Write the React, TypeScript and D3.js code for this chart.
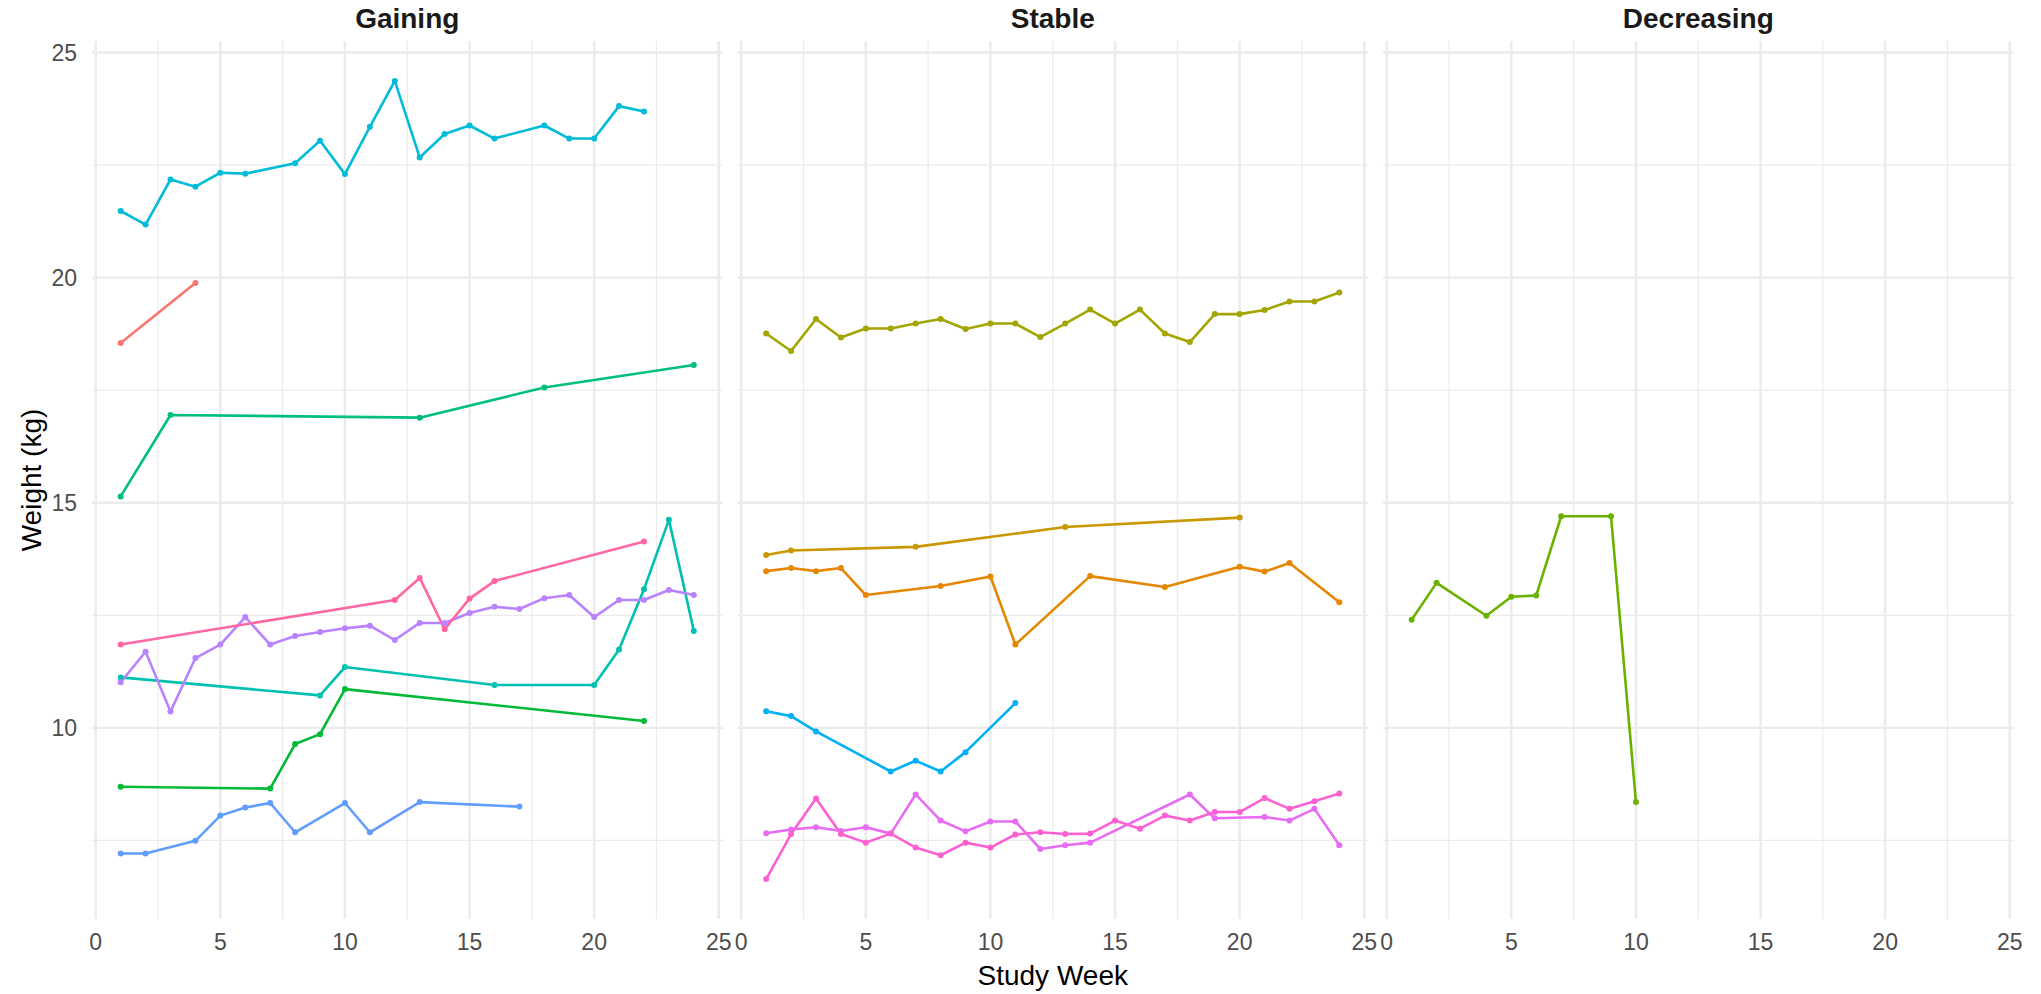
import React from "react";
import * as d3 from "d3";

// facets and series (one id per animal)
const facetNames = ["Gaining", "Stable", "Decreasing"];
const seriesIds = ["S01", "S02", "S03", "S04", "S05", "S06", "S07", "S08", "S09", "S10", "S11", "S12", "S13", "S14", "S15"];
const seriesFacet = ["Gaining", "Stable", "Stable", "Stable", "Decreasing", "Gaining", "Gaining", "Gaining", "Gaining", "Stable", "Gaining", "Gaining", "Stable", "Stable", "Gaining"];

const weeks01 = [1, 4];
const kg01 = [18.55, 19.88];
const weeks02 = [1, 2, 3, 4, 5, 8, 10, 11, 14, 17, 20, 21, 22, 24];
const kg02 = [13.48, 13.55, 13.48, 13.55, 12.95, 13.15, 13.36, 11.85, 13.37, 13.13, 13.58, 13.47, 13.66, 12.79];
const weeks03 = [1, 2, 7, 13, 20];
const kg03 = [13.84, 13.94, 14.02, 14.46, 14.67];
const weeks04 = [1, 2, 3, 4, 5, 6, 7, 8, 9, 10, 11, 12, 13, 14, 15, 16, 17, 18, 19, 20, 21, 22, 23, 24];
const kg04 = [18.76, 18.37, 19.08, 18.67, 18.87, 18.87, 18.98, 19.08, 18.86, 18.98, 18.98, 18.68, 18.98, 19.29, 18.98, 19.29, 18.76, 18.57, 19.19, 19.19, 19.28, 19.47, 19.47, 19.67];
const weeks05 = [1, 2, 4, 5, 6, 7, 9, 10];
const kg05 = [12.4, 13.22, 12.49, 12.91, 12.94, 14.7, 14.7, 8.35];
const weeks06 = [1, 7, 8, 9, 10, 22];
const kg06 = [8.69, 8.65, 9.64, 9.86, 10.86, 10.15];
const weeks07 = [1, 3, 13, 18, 24];
const kg07 = [15.14, 16.95, 16.89, 17.56, 18.06];
const weeks08 = [1, 9, 10, 16, 20, 21, 22, 23, 24];
const kg08 = [11.12, 10.72, 11.35, 10.95, 10.95, 11.74, 13.08, 14.62, 12.15];
const weeks09 = [1, 2, 3, 4, 5, 6, 8, 9, 10, 11, 12, 13, 14, 15, 16, 18, 19, 20, 21, 22];
const kg09 = [21.48, 21.18, 22.18, 22.02, 22.33, 22.31, 22.54, 23.04, 22.3, 23.35, 24.37, 22.67, 23.19, 23.38, 23.09, 23.38, 23.09, 23.09, 23.81, 23.69];
const weeks10 = [1, 2, 3, 6, 7, 8, 9, 11];
const kg10 = [10.37, 10.26, 9.92, 9.03, 9.27, 9.03, 9.46, 10.55];
const weeks11 = [1, 2, 4, 5, 6, 7, 8, 10, 11, 13, 17];
const kg11 = [7.21, 7.21, 7.49, 8.05, 8.23, 8.33, 7.68, 8.33, 7.68, 8.35, 8.25];
const weeks12 = [1, 2, 3, 4, 5, 6, 7, 8, 9, 10, 11, 12, 13, 14, 15, 16, 17, 18, 19, 20, 21, 22, 23, 24];
const kg12 = [11.01, 11.69, 10.36, 11.55, 11.85, 12.46, 11.85, 12.04, 12.13, 12.21, 12.27, 11.95, 12.33, 12.33, 12.55, 12.69, 12.64, 12.88, 12.95, 12.46, 12.84, 12.84, 13.06, 12.95];
const weeks13 = [1, 2, 3, 4, 5, 6, 7, 8, 9, 10, 11, 12, 13, 14, 18, 19, 21, 22, 23, 24];
const kg13 = [7.66, 7.74, 7.79, 7.71, 7.79, 7.65, 8.52, 7.94, 7.7, 7.92, 7.92, 7.31, 7.39, 7.45, 8.52, 7.99, 8.02, 7.94, 8.2, 7.39];
const weeks14 = [1, 2, 3, 4, 5, 6, 7, 8, 9, 10, 11, 12, 13, 14, 15, 16, 17, 18, 19, 20, 21, 22, 23, 24];
const kg14 = [6.64, 7.64, 8.43, 7.64, 7.45, 7.65, 7.34, 7.17, 7.45, 7.34, 7.63, 7.68, 7.64, 7.65, 7.94, 7.76, 8.05, 7.94, 8.13, 8.13, 8.44, 8.2, 8.37, 8.54];
const weeks15 = [1, 12, 13, 14, 15, 16, 22];
const kg15 = [11.85, 12.84, 13.33, 12.19, 12.87, 13.26, 14.14];

const seriesWeeks = [weeks01, weeks02, weeks03, weeks04, weeks05, weeks06, weeks07, weeks08, weeks09, weeks10, weeks11, weeks12, weeks13, weeks14, weeks15];
const seriesKg = [kg01, kg02, kg03, kg04, kg05, kg06, kg07, kg08, kg09, kg10, kg11, kg12, kg13, kg14, kg15];

const xTicks = [0, 5, 10, 15, 20, 25];
const yTicks = [10, 15, 20, 25];

// ggplot hue palette, 15 levels
const palette = ["#F8766D", "#E58700", "#C99800", "#A3A500", "#6BB100", "#00BA38", "#00BF7D", "#00C0AF", "#00BCD8", "#00B0F6", "#619CFF", "#B983FF", "#E76BF3", "#FD61D1", "#FF67A4"];

type Pt = { week: number; kg: number };
type Series = { id: string; facet: string; points: Pt[] };

const series: Series[] = seriesIds.map((id, i) => ({
  id,
  facet: seriesFacet[i],
  points: seriesWeeks[i].map((w, j) => ({ week: w, kg: seriesKg[i][j] })),
}));

const W = 2041;
const H = 994;
const panelTop = 41;
const panelBottom = 919;
const panelLeft = 92;
const panelW = 630.5;
const panelGap = 15;
const font = "'Liberation Sans', Arial, sans-serif";

const expand = (ext: [number, number]) => {
  const pad = (ext[1] - ext[0]) * 0.05;
  return [ext[0] - pad, ext[1] + pad];
};

export default function App() {
  const allPts = series.flatMap((s) => s.points);
  const xDom = expand(d3.extent(allPts, (d) => d.week) as [number, number]);
  const yDom = expand(d3.extent(allPts, (d) => d.kg) as [number, number]);

  const y = d3.scaleLinear().domain(yDom).range([panelBottom, panelTop]);
  const color = d3.scaleOrdinal<string, string>().domain(seriesIds).range(palette);

  const yMinor = d3.range(2.5, 30, 5).filter((v) => v > yDom[0] && v < yDom[1]);
  const xMinor = d3.range(2.5, 25, 5);

  return (
    <svg width={W} height={H} style={{ position: "fixed", left: 0, top: 0, background: "#fff" }} fontFamily={font}>
      {facetNames.map((f, fi) => {
        const left = panelLeft + fi * (panelW + panelGap);
        const x = d3.scaleLinear().domain(xDom).range([left, left + panelW]);
        const line = d3
          .line<Pt>()
          .x((d) => x(d.week))
          .y((d) => y(d.kg));
        const inFacet = series.filter((s) => s.facet === f);
        return (
          <g key={f}>
            {/* grid */}
            {yMinor.map((v) => (
              <line key={"ym" + v} x1={left} x2={left + panelW} y1={y(v)} y2={y(v)} stroke="#EBEBEB" strokeWidth={1.2} />
            ))}
            {xMinor.map((v) => (
              <line key={"xm" + v} x1={x(v)} x2={x(v)} y1={panelTop} y2={panelBottom} stroke="#EBEBEB" strokeWidth={1.2} />
            ))}
            {yTicks.map((v) => (
              <line key={"yM" + v} x1={left} x2={left + panelW} y1={y(v)} y2={y(v)} stroke="#EBEBEB" strokeWidth={2.4} />
            ))}
            {xTicks.map((v) => (
              <line key={"xM" + v} x1={x(v)} x2={x(v)} y1={panelTop} y2={panelBottom} stroke="#EBEBEB" strokeWidth={2.4} />
            ))}

            {/* lines then points */}
            {inFacet.map((s) => (
              <path key={"l" + s.id} d={line(s.points) || ""} fill="none" stroke={color(s.id)} strokeWidth={2.6} strokeLinejoin="round" />
            ))}
            {inFacet.map((s) => (
              <g key={"p" + s.id} fill={color(s.id)}>
                {s.points.map((p, j) => (
                  <circle key={j} cx={x(p.week)} cy={y(p.kg)} r={3} />
                ))}
              </g>
            ))}

            {/* strip title */}
            <text x={left + panelW / 2} y={28} textAnchor="middle" fontSize={28} fontWeight="bold" fill="#1A1A1A">
              {f}
            </text>

            {/* x tick labels */}
            {xTicks.map((v) => (
              <text key={"xt" + v} x={x(v)} y={950} textAnchor="middle" fontSize={23} fill="#4D4D4D">
                {v}
              </text>
            ))}
          </g>
        );
      })}

      {/* y tick labels */}
      {yTicks.map((v) => (
        <text key={"yt" + v} x={77} y={y(v)} dy="0.35em" textAnchor="end" fontSize={23} fill="#4D4D4D">
          {v}
        </text>
      ))}

      {/* axis titles */}
      <text x={panelLeft + (3 * panelW + 2 * panelGap) / 2} y={985} textAnchor="middle" fontSize={28} fill="#000">
        Study Week
      </text>
      <text transform={`translate(41, ${(panelTop + panelBottom) / 2}) rotate(-90)`} textAnchor="middle" fontSize={28} fill="#000">
        Weight (kg)
      </text>
    </svg>
  );
}
